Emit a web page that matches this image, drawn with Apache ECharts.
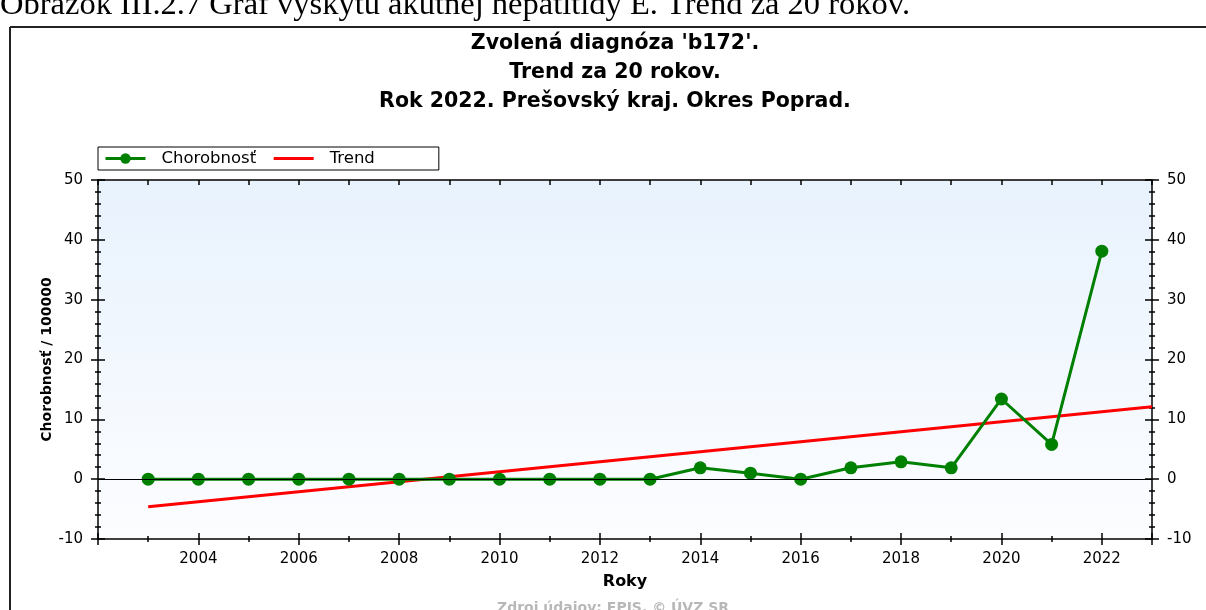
<!DOCTYPE html>
<html>
<head>
<meta charset="utf-8">
<script src="https://cdn.jsdelivr.net/npm/echarts@6/dist/echarts.min.js"></script>
<style>
  html, body { margin: 0; padding: 0; background: #fff; }
  #chart { width: 1206px; height: 610px; }
</style>
</head>
<body>
<div id="chart"></div>
<script>
// údaje odčítané z grafu
const years = [2003, 2004, 2005, 2006, 2007, 2008, 2009, 2010, 2011, 2012,
               2013, 2014, 2015, 2016, 2017, 2018, 2019, 2020, 2021, 2022]
const rates = [0, 0, 0, 0, 0, 0, 0, 0, 0, 0,
               0, 1.9, 1.0, 0, 1.9, 2.9, 1.9, 13.4, 5.8, 38.1]
const trendYears = [2003, 2023]
const trendValues = [-4.6, 12.1]
const xRange = [2002, 2023]
const yRange = [-10, 50]

const font = 'DejaVu Sans'
const black = '#000'

// pomocné osi – ticky cez os (von aj dnu), ako v pôvodnom grafe
function xAxis(position, interval, length, inside, labels, line) {
    return {
        type: 'value',
        position: position,
        min: xRange[0],
        max: xRange[1],
        interval: interval,
        axisLine: { show: line, onZero: false, lineStyle: { color: black, width: 1.5 } },
        axisTick: { show: length > 0, inside: inside, length: length, lineStyle: { color: black, width: 1.5 } },
        axisLabel: {
            show: labels,
            margin: 13,
            color: black,
            fontFamily: font,
            fontSize: 15,
            formatter: v => (v % 2 === 0 && v > xRange[0]) ? String(v) : ''
        },
        splitLine: { show: false }
    }
}

function yAxis(position, interval, length, inside, labels, line) {
    return {
        type: 'value',
        position: position,
        min: yRange[0],
        max: yRange[1],
        interval: interval,
        axisLine: { show: line, onZero: false, lineStyle: { color: black, width: 1.5 } },
        axisTick: { show: true, inside: inside, length: length, lineStyle: { color: black, width: 1.5 } },
        axisLabel: {
            show: labels,
            margin: 15,
            color: black,
            fontFamily: font,
            fontSize: 15
        },
        splitLine: { show: false }
    }
}

let myChart = echarts.init(document.getElementById('chart'))

let xAxes = [
    xAxis('bottom', 1, 3, false, true, true),
    xAxis('bottom', 1, 3, true, false, false),
    xAxis('bottom', 2, 6, false, false, false),
    xAxis('bottom', 2, 6, true, false, false),
    xAxis('top', 1, 5, true, false, true)
]
xAxes[0].name = 'Roky'
xAxes[0].nameLocation = 'middle'
xAxes[0].nameGap = 35
xAxes[0].nameTextStyle = { color: black, fontFamily: font, fontSize: 16, fontWeight: 'bold' }

let yAxes = [
    yAxis('left', 10, 7, false, true, true),
    yAxis('left', 10, 7, true, false, false),
    yAxis('left', 2, 3, false, false, false),
    yAxis('left', 2, 3, true, false, false),
    yAxis('right', 10, 7, false, true, true),
    yAxis('right', 10, 7, true, false, false),
    yAxis('right', 2, 3, false, false, false),
    yAxis('right', 2, 3, true, false, false)
]
yAxes[0].name = 'Chorobnosť / 100000'
yAxes[0].nameLocation = 'middle'
yAxes[0].nameGap = 44
yAxes[0].nameMoveOverlap = false
yAxes[0].nameTextStyle = { color: black, fontFamily: font, fontSize: 14, fontWeight: 'bold' }

let option = {
    backgroundColor: '#fff',
    animation: false,
    title: {
        text: "Zvolená diagnóza 'b172'.\nTrend za 20 rokov.\nRok 2022. Prešovský kraj. Okres Poprad.",
        left: 615,
        textAlign: 'center',
        top: 29,
        padding: 0,
        textStyle: {
            color: black,
            fontFamily: font,
            fontSize: 20.5,
            fontWeight: 'bold',
            lineHeight: 29
        }
    },
    legend: {
        data: [
            { name: 'Chorobnosť', lineStyle: { width: 3 } },
            { name: 'Trend', lineStyle: { width: 3 }, itemStyle: { color: 'transparent', borderWidth: 0 } }
        ],
        left: 98,
        top: 147,
        padding: [3, 64, 3, 6],
        itemWidth: 40,
        itemHeight: 13,
        itemGap: 16,
        borderColor: black,
        borderWidth: 1,
        backgroundColor: '#fff',
        borderRadius: 0,
        textStyle: { color: black, fontFamily: font, fontSize: 16.5, padding: [0, 0, 0, 11] }
    },
    grid: {
        left: 98,
        right: 54,
        top: 180,
        bottom: 71,
        show: true,
        borderWidth: 0,
        backgroundColor: new echarts.graphic.LinearGradient(0, 0, 0, 1, [
            { offset: 0, color: '#e8f2fd' },
            { offset: 1, color: '#fcfdff' }
        ])
    },
    xAxis: xAxes,
    yAxis: yAxes,
    graphic: [
        {
            type: 'text',
            left: 0,
            top: -11,
            style: {
                text: 'Obrázok III.2.7 Graf výskytu akútnej hepatitídy E. Trend za 20 rokov.',
                fill: black,
                font: '32.5px "Liberation Serif"'
            }
        },
        {
            type: 'line',
            shape: { x1: 10, y1: 27, x2: 1206, y2: 27 },
            style: { stroke: '#222', lineWidth: 2 }
        },
        {
            type: 'line',
            shape: { x1: 10, y1: 27, x2: 10, y2: 610 },
            style: { stroke: '#222', lineWidth: 2 }
        },
        {
            type: 'text',
            left: 497,
            top: 601,
            style: {
                text: 'Zdroj údajov: EPIS, © ÚVZ SR',
                fill: '#b8b8b8',
                font: 'bold 14px "DejaVu Sans"'
            }
        }
    ],
    series: [
        {
            name: 'Trend',
            type: 'line',
            data: trendYears.map((y, i) => [y, trendValues[i]]),
            symbol: 'none',
            z: 3,
            lineStyle: { color: '#ff0000', width: 3 },
            itemStyle: { color: '#ff0000' },
            markLine: {
                silent: true,
                symbol: 'none',
                label: { show: false },
                lineStyle: { color: black, width: 1.2, type: 'solid' },
                data: [{ yAxis: 0 }]
            }
        },
        {
            name: 'Chorobnosť',
            type: 'line',
            data: years.map((y, i) => [y, rates[i]]),
            symbol: 'circle',
            symbolSize: 13,
            z: 4,
            lineStyle: { color: '#008000', width: 3 },
            itemStyle: { color: '#008000' }
        }
    ]
}
myChart.setOption(option)
</script>
</body>
</html>
